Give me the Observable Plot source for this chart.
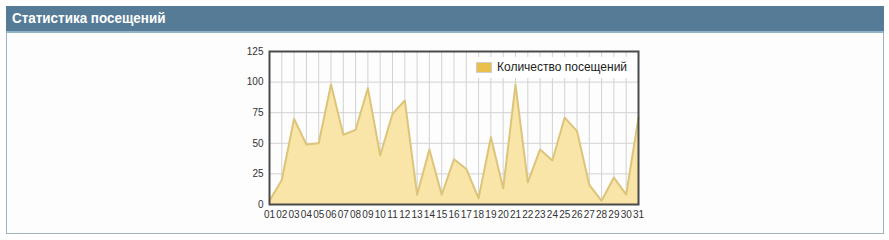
<!DOCTYPE html>
<html>
<head>
<meta charset="utf-8">
<script src="https://cdn.jsdelivr.net/npm/d3@7"></script>
<script src="https://cdn.jsdelivr.net/npm/@observablehq/plot@0.6"></script>
<style>
  html, body { margin: 0; padding: 0; background: #ffffff; }
  #wrap { position: relative; width: 889px; height: 240px; overflow: hidden; font-family: "Liberation Sans", Arial, sans-serif; }
  #head { position: absolute; left: 6px; top: 6px; width: 878px; height: 25px; background: #567b96; border-bottom: 2px solid #93b2c7; }
  #head span { position: absolute; left: 6px; top: 4px; color: #ffffff; font-weight: bold; font-size: 14px; font-family: "Liberation Sans", Arial, sans-serif; transform: scaleX(0.96); transform-origin: 0 0; white-space: nowrap; }
  #panel { position: absolute; left: 6px; top: 33px; width: 876px; height: 200px; background: #fdfdfe; border: 1px solid #9fb2c0; border-top: none; }
  #chart { position: absolute; left: 0; top: 0; }
  #legend { position: absolute; left: 470px; top: 57px; width: 164px; height: 21px; background: #ffffff; }
  #legend .sw { position: absolute; left: 6px; top: 5px; width: 14px; height: 9px; background: #e9c04a; border: 1px solid #cfcfcf; }
  #legend .tx { position: absolute; left: 27px; top: 3px; font-size: 12px; color: #222; white-space: nowrap; }
</style>
</head>
<body>
<div id="wrap">
  <div id="head"><span>Статистика посещений</span></div>
  <div id="panel"></div>
  <div id="chart"></div>
  <div id="legend"><div class="sw"></div><div class="tx">Количество посещений</div></div>
</div>
<script>
const title = "Статистика посещений";
const seriesName = "Количество посещений";
const days = d3.range(1, 32);
const dayLabels = days.map(d => String(d).padStart(2, "0"));
const visits = [3, 20, 70, 49, 50, 98, 57, 61, 95, 40, 74, 85, 8, 45, 8, 37, 29, 5, 55, 13, 98, 18, 45, 36, 71, 60, 16, 3, 22, 8, 71];
const yTicks = [0, 25, 50, 75, 100, 125];

const data = days.map((d, i) => ({day: d, v: visits[i]}));

const chart = Plot.plot({
  width: 889,
  height: 240,
  marginLeft: 269,
  marginRight: 251,
  marginTop: 51,
  marginBottom: 36,
  style: {background: "transparent", fontFamily: "Liberation Sans, Arial, sans-serif", fontSize: "10px", color: "#333"},
  x: {domain: [1, 31], ticks: days, tickFormat: d => dayLabels[d - 1], tickSize: 0, tickPadding: 6, label: null},
  y: {domain: [0, 125], ticks: yTicks, tickSize: 0, tickPadding: 6, label: null},
  marks: [
    Plot.gridX(days, {stroke: "#d2d2d2", strokeOpacity: 1}),
    Plot.gridY(yTicks, {stroke: "#d2d2d2", strokeOpacity: 1}),
    Plot.areaY(data, {x: "day", y: "v", fill: "#fae5a8"}),
    Plot.lineY(data, {x: "day", y: "v", stroke: "#dcc47a", strokeWidth: 2}),
    Plot.frame({stroke: "#4a4a4a", strokeWidth: 2})
  ]
});
document.getElementById("chart").appendChild(chart);
</script>
</body>
</html>
